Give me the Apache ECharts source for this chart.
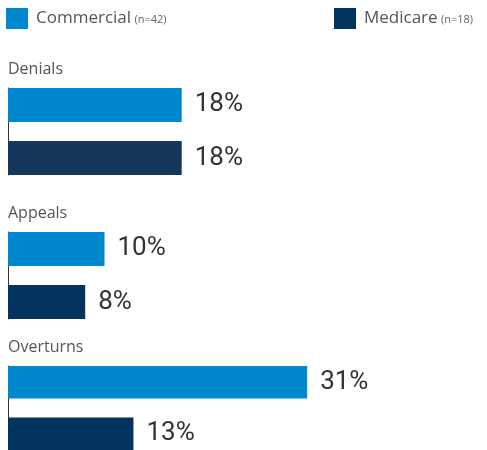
<!DOCTYPE html>
<html>
<head>
<meta charset="utf-8">
<script src="https://cdn.jsdelivr.net/npm/echarts@6/dist/echarts.min.js"></script>
<style>
  html, body { margin: 0; padding: 0; background: #fff; }
  #chart { width: 487px; height: 450px; }
</style>
</head>
<body>
<div id="chart"></div>
<script>
// data
let groups = ['Denials', 'Appeals', 'Overturns'];
let commercial = [18, 10, 31];
let medicare = [18, 8, 13];
let seriesNames = ['Commercial', 'Medicare'];
let sampleSizes = ['(n=42)', '(n=18)'];

let colorCommercial = '#0088ce';
let colorMedicare = '#02345f';

// top of each group's bar block (px), block is 2 bars + gap
let groupTops = [88, 232, 366];
let blockHeight = 87;
let xMax = 48;

let grids = [];
let xAxes = [];
let yAxes = [];
let series = [];
let titles = [];

groups.forEach(function (name, i) {
    grids.push({ left: 8, width: 9.65 * xMax, top: groupTops[i], height: blockHeight });
    xAxes.push({ type: 'value', gridIndex: i, min: 0, max: xMax, show: false });
    yAxes.push({
        type: 'category', gridIndex: i, data: [name], inverse: true,
        axisLine: { show: true, lineStyle: { color: '#333', width: 1 } },
        axisTick: { show: false },
        axisLabel: { show: false }
    });
    titles.push({
        text: name, left: 8, top: groupTops[i] - 27, padding: 0,
        textStyle: { fontFamily: 'Open Sans', fontWeight: 'normal', fontSize: 16, color: '#555' }
    });
    let label = {
        show: true, position: 'right', distance: 13,
        formatter: '{c}%',
        fontFamily: 'Roboto',
        fontSize: 26, color: '#333'
    };
    series.push({
        name: seriesNames[0], type: 'bar', xAxisIndex: i, yAxisIndex: i,
        barWidth: 34, barGap: '56%',
        itemStyle: { color: colorCommercial },
        label: label,
        data: [commercial[i]]
    });
    series.push({
        name: seriesNames[1], type: 'bar', xAxisIndex: i, yAxisIndex: i,
        barWidth: 34, barGap: '56%',
        itemStyle: { color: i === 0 ? '#15375c' : colorMedicare },
        label: label,
        data: [medicare[i]]
    });
});

function legendFor(idx, left) {
    return {
        data: [{ name: seriesNames[idx], itemStyle: { color: idx === 0 ? colorCommercial : colorMedicare } }],
        left: left, top: 8, padding: 0,
        itemWidth: 22, itemHeight: 21,
        icon: 'rect',
        selectedMode: false,
        formatter: function (n) { return '{a|' + n + '} {b|' + sampleSizes[idx] + '}'; },
        textStyle: {
            rich: {
                a: { fontFamily: 'Open Sans', fontSize: 17, color: '#555', padding: [0, 0, 0, 3] },
                b: { fontFamily: 'Open Sans', fontSize: 11, color: '#666', padding: [3, 0, 0, 0] }
            }
        }
    };
}

let myChart = echarts.init(document.getElementById('chart'));
myChart.setOption({
    animation: false,
    title: titles,
    legend: [legendFor(0, 6), legendFor(1, 334)],
    grid: grids,
    xAxis: xAxes,
    yAxis: yAxes,
    series: series
});
</script>
</body>
</html>
